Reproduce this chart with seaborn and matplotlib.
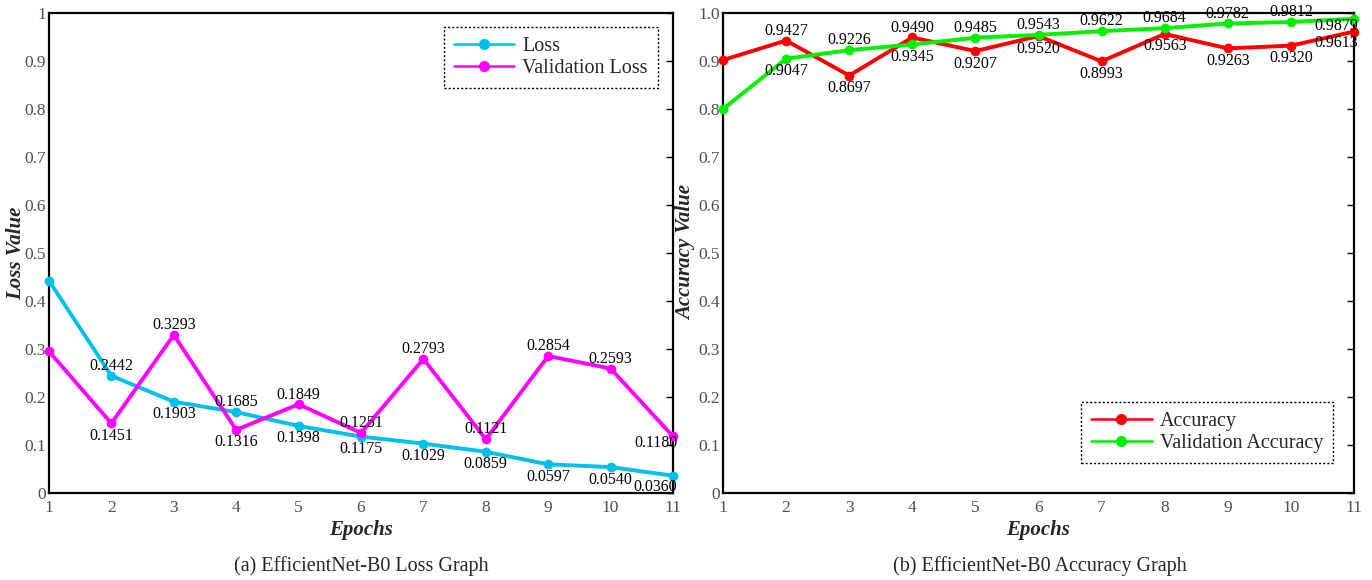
import matplotlib
matplotlib.use("Agg")
import matplotlib.pyplot as plt
import seaborn as sns
import pandas as pd

# data
epochs = [1, 2, 3, 4, 5, 6, 7, 8, 9, 10, 11]
loss = [0.4420, 0.2442, 0.1903, 0.1685, 0.1398, 0.1175, 0.1029, 0.0859, 0.0597, 0.0540, 0.0360]
val_loss = [0.2950, 0.1451, 0.3293, 0.1316, 0.1849, 0.1251, 0.2793, 0.1121, 0.2854, 0.2593, 0.1180]
accuracy = [0.9020, 0.9427, 0.8697, 0.9490, 0.9207, 0.9520, 0.8993, 0.9563, 0.9263, 0.9320, 0.9613]
val_accuracy = [0.8000, 0.9047, 0.9226, 0.9345, 0.9485, 0.9543, 0.9622, 0.9684, 0.9782, 0.9812, 0.9879]

yticks = [0, 0.1, 0.2, 0.3, 0.4, 0.5, 0.6, 0.7, 0.8, 0.9, 1.0]
ylab_left = ["0", "0.1", "0.2", "0.3", "0.4", "0.5", "0.6", "0.7", "0.8", "0.9", "1"]
ylab_right = ["0", "0.1", "0.2", "0.3", "0.4", "0.5", "0.6", "0.7", "0.8", "0.9", "1.0"]

sns.set_style("white")
plt.rcParams["font.family"] = ["Liberation Serif", "DejaVu Serif"]

W, H = 1372, 580
fig = plt.figure(figsize=(W / 100, H / 100), dpi=100)
ax1 = fig.add_axes([49 / W, 1 - 493 / H, (673 - 49) / W, 480 / H])
ax2 = fig.add_axes([723 / W, 1 - 493 / H, (1354 - 723) / W, 480 / H])


def draw(ax, s1, s2, n1, n2, c1, c2, ylabels, ylabel, legend_loc, legend_anchor):
    df = pd.DataFrame({"Epoch": epochs, n1: s1, n2: s2})
    sns.lineplot(data=df, x="Epoch", y=n1, ax=ax, color=c1, marker="o", markersize=7,
                 markeredgewidth=0, linewidth=2.8, label=n1, clip_on=False, zorder=3)
    sns.lineplot(data=df, x="Epoch", y=n2, ax=ax, color=c2, marker="o", markersize=7,
                 markeredgewidth=0, linewidth=2.8, label=n2, clip_on=False, zorder=3)

    # value labels (skip epoch 1); higher value above, lower below,
    # last epoch both below and pulled to the left
    last = len(epochs) - 1
    for i in range(1, len(epochs)):
        a, b = s1[i], s2[i]
        for v, other in ((a, b), (b, a)):
            up = v > other
            if i == last:
                dy = -5 if up else -8
                ha, dx = "right", 3
            else:
                dy = 7 if up else -9
                ha, dx = "center", 0
            ax.annotate(f"{v:.4f}", (epochs[i], v), xytext=(dx, dy),
                        textcoords="offset points", ha=ha, va="center",
                        fontsize=11.5, color="black", annotation_clip=False, zorder=5)

    ax.set_xlim(1, 11)
    ax.set_ylim(0, 1)
    ax.set_xticks(epochs)
    ax.set_yticks(yticks)
    ax.set_yticklabels(ylabels)
    ax.tick_params(axis="both", direction="in", length=5, width=1, colors="black",
                   labelcolor="#505050", labelsize=12.5, right=True, top=False)
    ax.tick_params(axis="x", pad=5)
    ax.tick_params(axis="y", pad=2)
    for sp in ax.spines.values():
        sp.set_visible(True)
        sp.set_color("black")
        sp.set_linewidth(1.6)
    ax.set_xlabel("Epochs", fontsize=15, fontweight="bold", fontstyle="italic")
    ax.set_ylabel(ylabel, fontsize=15, fontweight="bold", fontstyle="italic")
    ax.xaxis.set_label_coords(0.5, -0.056)
    ax.grid(False)

    leg = ax.legend(loc=legend_loc, bbox_to_anchor=legend_anchor, fontsize=14.5,
                    frameon=True, fancybox=False, handlelength=3, borderpad=0.5,
                    labelspacing=0.15, handletextpad=0.4, borderaxespad=0)
    for ln in leg.get_lines():
        ln.set_linewidth(1.8)
        ln.set_markersize(8)
    fr = leg.get_frame()
    fr.set_edgecolor("black")
    fr.set_linewidth(1.0)
    fr.set_linestyle((0, (1.5, 1.5)))
    fr.set_alpha(1)


draw(ax1, loss, val_loss, "Loss", "Validation Loss", "#00bfe8", "#ff00ff",
     ylab_left, "Loss Value", "upper right", (0.976, 0.971))
ax1.yaxis.set_label_coords(-0.036, 0.5)

draw(ax2, accuracy, val_accuracy, "Accuracy", "Validation Accuracy", "#ff0000", "#00f000",
     ylab_right, "Accuracy Value", "lower right", (0.967, 0.0625))
ax2.yaxis.set_label_coords(-0.042, 0.5)

fig.text(361 / W, 1 - 566 / H, "(a) EfficientNet-B0 Loss Graph", ha="center", va="center", fontsize=14.5)
fig.text(1040 / W, 1 - 566 / H, "(b) EfficientNet-B0 Accuracy Graph", ha="center", va="center", fontsize=14.5)

fig.savefig("out.png", dpi=100)
